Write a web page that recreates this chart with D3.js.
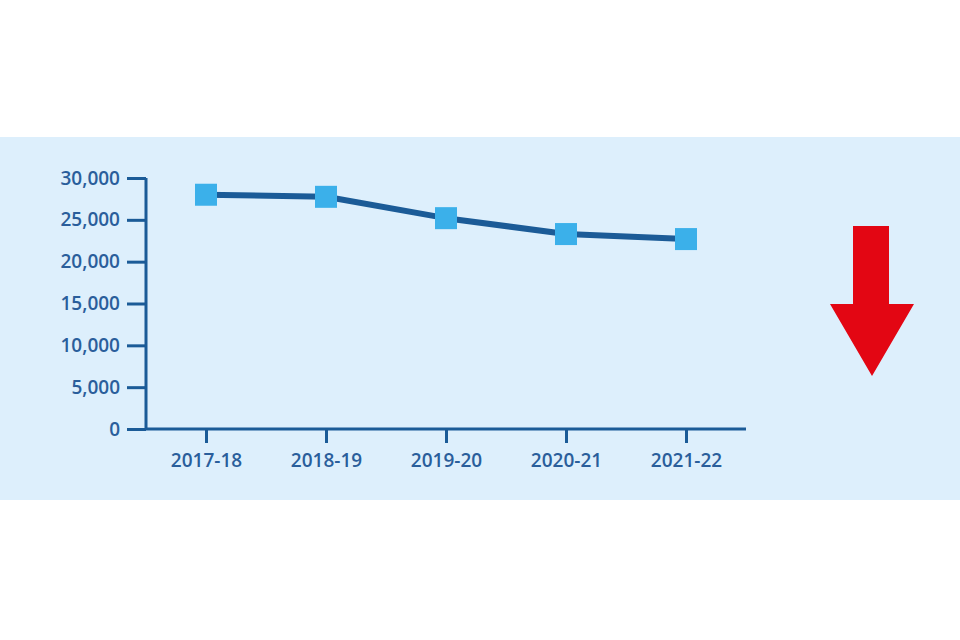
<!DOCTYPE html>
<html lang="en">
<head>
  <meta charset="UTF-8">
  <title>Trend 2017-18 to 2021-22</title>
  <style>
    * { margin: 0; }
    body { background: #fff; }
  </style>
</head>
<body>
  <div id="chart"></div>
  <script src="https://cdnjs.cloudflare.com/ajax/libs/d3/7.8.5/d3.min.js"></script>
  <script>
    const years = ['2017-18', '2018-19', '2019-20', '2020-21', '2021-22'];
    const counts = [28000, 27750, 25200, 23300, 22700];
    const yTicks = [0, 5000, 10000, 15000, 20000, 25000, 30000];

    const width = 960, height = 640;
    const navy = '#1b5b97';

    const svg = d3.select('#chart')
      .append('svg')
      .attr('width', width)
      .attr('height', height);

    // light blue panel
    svg.append('rect')
      .attr('x', 0).attr('y', 137)
      .attr('width', width).attr('height', 363)
      .attr('fill', '#ddeffc');

    const x = d3.scalePoint()
      .domain(years)
      .range([146, 746])
      .padding(0.5);

    const y = d3.scaleLinear()
      .domain([0, 30000])
      .range([429, 178]);

    const yAxis = svg.append('g')
      .attr('transform', 'translate(146,0)')
      .call(d3.axisLeft(y).tickValues(yTicks).tickSize(19).tickPadding(7)
        .tickFormat(d3.format(',')));

    const xAxis = svg.append('g')
      .attr('transform', 'translate(0,429)')
      .call(d3.axisBottom(x).tickSize(14).tickPadding(11));

    [yAxis, xAxis].forEach(g => {
      g.select('.domain').remove();
      g.selectAll('line').attr('stroke', navy).attr('stroke-width', 3);
      g.selectAll('text').attr('fill', '#2a5e9b')
        .style('font-size', '19px')
        .style('font-weight', '600')
        .style('font-family', '"Open Sans", sans-serif');
    });

    // axis L shape
    svg.append('path')
      .attr('d', `M146,${y(30000)}V${y(0)}H746`)
      .attr('fill', 'none')
      .attr('stroke', navy)
      .attr('stroke-width', 3);

    const pts = years.map((yr, i) => [x(yr), y(counts[i])]);

    svg.append('path')
      .datum(pts)
      .attr('d', d3.line())
      .attr('fill', 'none')
      .attr('stroke', navy)
      .attr('stroke-width', 6)
      .attr('stroke-linejoin', 'round');

    svg.selectAll('rect.pt')
      .data(pts)
      .join('rect')
      .attr('class', 'pt')
      .attr('x', d => d[0] - 11)
      .attr('y', d => d[1] - 11)
      .attr('width', 22)
      .attr('height', 22)
      .attr('fill', '#3bb0ea');

    // red down arrow
    svg.append('path')
      .attr('d', 'M853,226H889V304H914L872,376L830,304H853Z')
      .attr('fill', '#e30613');
  </script>
</body>
</html>
